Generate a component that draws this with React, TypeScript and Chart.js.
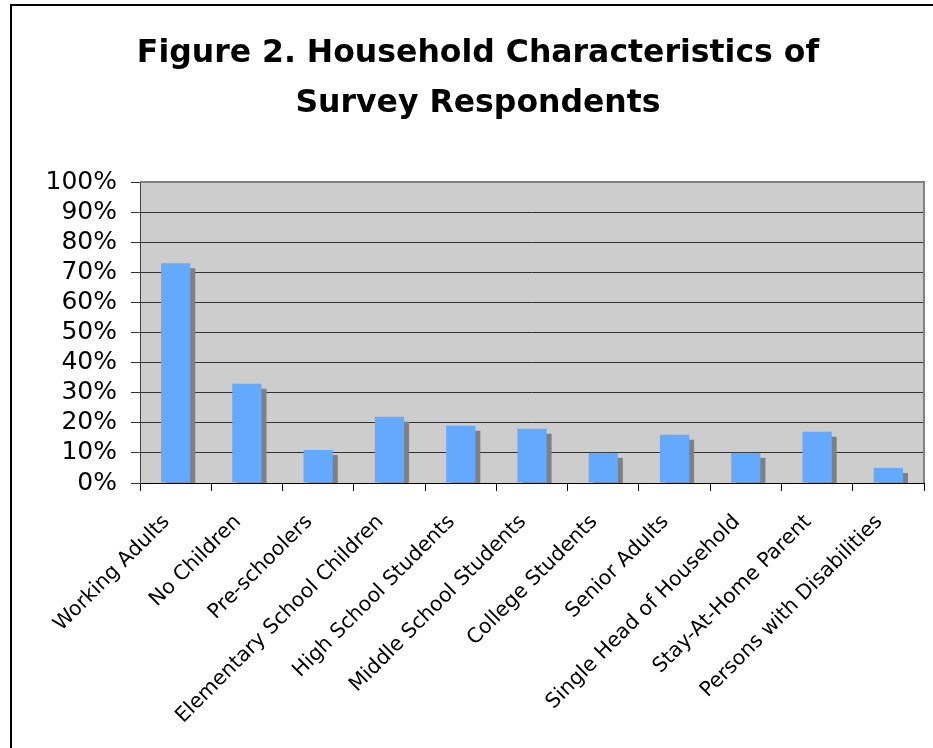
import React, { useEffect, useRef } from 'react';
import { Chart, registerables } from 'chart.js';

Chart.register(...registerables);

const titleLines = ['Figure 2. Household Characteristics of', 'Survey Respondents'];

const categories = [
  'Working Adults',
  'No Children',
  'Pre-schoolers',
  'Elementary School Children',
  'High School Students',
  'Middle School Students',
  'College Students',
  'Senior Adults',
  'Single Head of Household',
  'Stay-At-Home Parent',
  'Persons with Disabilities',
];

const percentages = [73, 33, 11, 22, 19, 18, 10, 16, 10, 17, 5];

const yMin = 0;
const yMax = 100;
const yStep = 10;

const W = 933;
const H = 748;

export default function App() {
  const ref = useRef<HTMLCanvasElement>(null);

  useEffect(() => {
    if (!ref.current) return;

    const plotArea = {
      id: 'plotArea',
      beforeDraw(chart: any) {
        const { ctx, chartArea: a } = chart;
        ctx.save();
        ctx.fillStyle = '#CDCDCD';
        ctx.fillRect(a.left, a.top, a.right - a.left, a.bottom - a.top);
        ctx.restore();
      },
      afterDraw(chart: any) {
        const { ctx, chartArea: a } = chart;
        ctx.save();
        ctx.strokeStyle = '#808080';
        ctx.lineWidth = 2;
        ctx.beginPath();
        ctx.moveTo(a.left, a.top);
        ctx.lineTo(a.right, a.top);
        ctx.lineTo(a.right, a.bottom);
        ctx.stroke();
        ctx.restore();
      },
    };

    const barShadow = {
      id: 'barShadow',
      beforeDatasetDraw(chart: any) {
        const ctx = chart.ctx;
        ctx.save();
        ctx.shadowColor = '#808080';
        ctx.shadowOffsetX = 5;
        ctx.shadowOffsetY = 5;
        ctx.shadowBlur = 0;
      },
      afterDatasetDraw(chart: any) {
        chart.ctx.restore();
      },
    };

    const chart = new Chart(ref.current, {
      type: 'bar',
      data: {
        labels: categories,
        datasets: [
          {
            data: percentages,
            backgroundColor: '#63A9FF',
            borderWidth: 0,
            barPercentage: 0.41,
            categoryPercentage: 1,
            clip: 0,
          } as any,
        ],
      },
      options: {
        responsive: false,
        animation: false,
        devicePixelRatio: 1,
        layout: { padding: { left: 32, right: 9, top: 0, bottom: 0 } },
        plugins: {
          legend: { display: false },
          tooltip: { enabled: false },
          title: {
            display: true,
            text: titleLines,
            color: '#000',
            font: { family: 'DejaVu Sans', size: 31.5, weight: 'bold', lineHeight: '50px' } as any,
            padding: { top: 29, bottom: 53 },
          },
        },
        scales: {
          x: {
            grid: {
              display: true,
              drawOnChartArea: false,
              drawTicks: true,
              tickLength: 8,
              color: '#000',
              offset: true,
            },
            border: { color: '#000', width: 1 },
            ticks: {
              minRotation: 45,
              maxRotation: 45,
              autoSkip: false,
              color: '#000',
              padding: 19,
              labelOffset: -9,
              font: { family: 'DejaVu Sans', size: 20.5 },
            },
            afterFit(scale: any) {
              scale.height = 265;
            },
          },
          y: {
            min: yMin,
            max: yMax,
            ticks: {
              stepSize: yStep,
              autoSkip: false,
              color: '#000',
              padding: 14,
              font: { family: 'DejaVu Sans', size: 25 },
              callback: (v: any) => v + '%',
            },
            grid: { color: '#303030', lineWidth: 1, tickLength: 9 },
            border: { color: '#404040', width: 1 },
            afterFit(scale: any) {
              scale.width = 108;
            },
          },
        },
      },
      plugins: [plotArea, barShadow],
    });

    return () => chart.destroy();
  }, []);

  return (
    <div
      style={{
        position: 'fixed',
        left: 0,
        top: 0,
        width: W,
        height: H,
        overflow: 'hidden',
        background: '#fff',
      }}
    >
      <canvas
        ref={ref}
        width={W}
        height={H}
        style={{ position: 'absolute', left: 0, top: 0, width: W, height: H }}
      />
      <div
        style={{
          position: 'absolute',
          left: 10,
          top: 4,
          width: 2000,
          height: 2000,
          borderLeft: '2px solid #000',
          borderTop: '2px solid #000',
          pointerEvents: 'none',
        }}
      />
    </div>
  );
}
